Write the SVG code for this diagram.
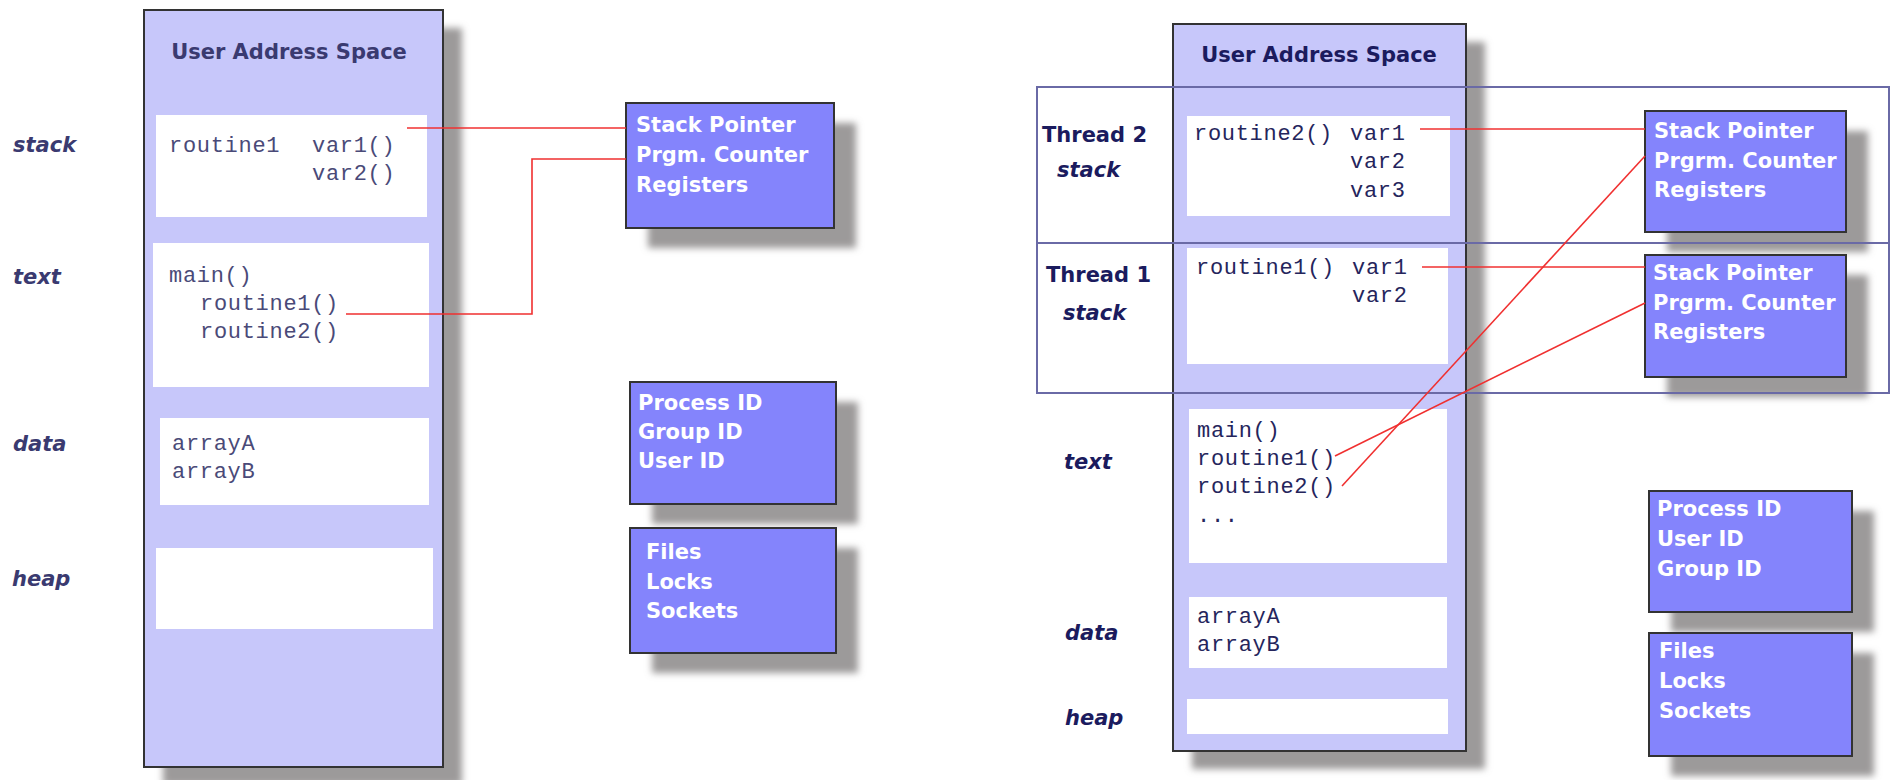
<svg xmlns="http://www.w3.org/2000/svg" width="1896" height="780" viewBox="0 0 1896 780">
<defs>
<filter id="blur" x="-20%" y="-20%" width="140%" height="140%"><feGaussianBlur stdDeviation="3.5"/></filter>
<style>
.sh{fill:#9c9a9a;filter:url(#blur)}
.space{fill:#c7c7fa;stroke:#333;stroke-width:2}
.slot{fill:#fff}
.blue{fill:#8484fc;stroke:#333;stroke-width:2}
.title{font-family:"DejaVu Sans",Verdana,sans-serif;font-weight:bold;font-size:21px}
.lab{font-family:"DejaVu Sans",Verdana,sans-serif;font-weight:bold;font-style:italic;font-size:21px}
.thr{font-family:"DejaVu Sans",Verdana,sans-serif;font-weight:bold;font-size:21px;fill:#1b1b5e}
.mono{font-family:"Liberation Mono","Courier New",monospace;font-size:22px;letter-spacing:0.7px}
.wt{font-family:"DejaVu Sans",Verdana,sans-serif;font-weight:bold;font-size:21px;fill:#fff}
.L{fill:#3a3a70}
.Lm{fill:#4a4a78}
.R{fill:#1b1b5e}
.Rm{fill:#25255c}
.frame{fill:none;stroke:#6a6aa6;stroke-width:2}
.red{fill:none;stroke:#f03030;stroke-width:1.6}
</style>
</defs>
<rect width="1896" height="780" fill="#fff"/>

<!-- LEFT: single-threaded process -->
<g id="left-address-space">
<rect class="sh" x="163" y="28" width="299" height="757"/>
<rect class="space" x="144" y="10" width="299" height="757"/>
<text class="title L" x="289" y="59" text-anchor="middle">User Address Space</text>
</g>
<g id="left-stack">
<text class="lab L" x="13" y="152">stack</text>
<rect class="slot" x="156" y="115" width="271" height="102"/>
<text class="mono Lm" x="169" y="152">routine1</text>
<text class="mono Lm" x="312" y="152">var1()</text>
<text class="mono Lm" x="312" y="180">var2()</text>
</g>
<g id="left-text">
<text class="lab L" x="13" y="284">text</text>
<rect class="slot" x="153" y="243" width="276" height="144"/>
<text class="mono Lm" x="169" y="282">main()</text>
<text class="mono Lm" x="200" y="310">routine1()</text>
<text class="mono Lm" x="200" y="338">routine2()</text>
</g>
<g id="left-data">
<text class="lab L" x="13" y="451">data</text>
<rect class="slot" x="160" y="418" width="269" height="87"/>
<text class="mono Lm" x="172" y="450">arrayA</text>
<text class="mono Lm" x="172" y="478">arrayB</text>
</g>
<g id="left-heap">
<text class="lab L" x="12" y="586">heap</text>
<rect class="slot" x="156" y="548" width="277" height="81"/>
</g>
<g id="left-registers">
<rect class="sh" x="648" y="123" width="208" height="125"/>
<rect class="blue" x="626" y="103" width="208" height="125"/>
<text class="wt" x="636" y="132">Stack Pointer</text>
<text class="wt" x="636" y="162">Prgm. Counter</text>
<text class="wt" x="636" y="192">Registers</text>
</g>
<g id="left-ids">
<rect class="sh" x="652" y="402" width="206" height="122"/>
<rect class="blue" x="630" y="382" width="206" height="122"/>
<text class="wt" x="638" y="410">Process ID</text>
<text class="wt" x="638" y="439">Group ID</text>
<text class="wt" x="638" y="468">User ID</text>
</g>
<g id="left-resources">
<rect class="sh" x="652" y="548" width="206" height="125"/>
<rect class="blue" x="630" y="528" width="206" height="125"/>
<text class="wt" x="646" y="559">Files</text>
<text class="wt" x="646" y="589">Locks</text>
<text class="wt" x="646" y="618">Sockets</text>
</g>

<!-- RIGHT: multi-threaded process -->
<g id="right-address-space">
<rect class="sh" x="1192" y="42" width="293" height="727"/>
<rect class="space" x="1173" y="24" width="293" height="727"/>
<text class="title R" x="1319" y="62" text-anchor="middle">User Address Space</text>
</g>
<g id="thread2-stack">
<text class="thr" x="1042" y="142">Thread 2</text>
<text class="lab R" x="1057" y="177">stack</text>
<rect class="slot" x="1187" y="116" width="263" height="100"/>
<text class="mono Rm" x="1194" y="140">routine2()</text>
<text class="mono Rm" x="1350" y="140">var1</text>
<text class="mono Rm" x="1350" y="168">var2</text>
<text class="mono Rm" x="1350" y="197">var3</text>
</g>
<g id="thread1-stack">
<text class="thr" x="1046" y="282">Thread 1</text>
<text class="lab R" x="1063" y="320">stack</text>
<rect class="slot" x="1187" y="248" width="261" height="116"/>
<text class="mono Rm" x="1196" y="274">routine1()</text>
<text class="mono Rm" x="1352" y="274">var1</text>
<text class="mono Rm" x="1352" y="302">var2</text>
</g>
<g id="right-text">
<text class="lab R" x="1064" y="469">text</text>
<rect class="slot" x="1189" y="409" width="258" height="154"/>
<text class="mono Rm" x="1197" y="437">main()</text>
<text class="mono Rm" x="1197" y="465">routine1()</text>
<text class="mono Rm" x="1197" y="493">routine2()</text>
<text class="mono Rm" x="1197" y="522">...</text>
</g>
<g id="right-data">
<text class="lab R" x="1065" y="640">data</text>
<rect class="slot" x="1189" y="597" width="258" height="71"/>
<text class="mono Rm" x="1197" y="623">arrayA</text>
<text class="mono Rm" x="1197" y="651">arrayB</text>
</g>
<g id="right-heap">
<text class="lab R" x="1065" y="725">heap</text>
<rect class="slot" x="1187" y="699" width="261" height="35"/>
</g>
<g id="thread2-registers">
<rect class="sh" x="1667" y="131" width="201" height="121"/>
<rect class="blue" x="1645" y="111" width="201" height="121"/>
<text class="wt" x="1654" y="138">Stack Pointer</text>
<text class="wt" x="1654" y="168">Prgrm. Counter</text>
<text class="wt" x="1654" y="197">Registers</text>
</g>
<g id="thread1-registers">
<rect class="sh" x="1667" y="275" width="201" height="122"/>
<rect class="blue" x="1645" y="255" width="201" height="122"/>
<text class="wt" x="1653" y="280">Stack Pointer</text>
<text class="wt" x="1653" y="310">Prgrm. Counter</text>
<text class="wt" x="1653" y="339">Registers</text>
</g>
<g id="right-ids">
<rect class="sh" x="1671" y="511" width="203" height="121"/>
<rect class="blue" x="1649" y="491" width="203" height="121"/>
<text class="wt" x="1657" y="516">Process ID</text>
<text class="wt" x="1657" y="546">User ID</text>
<text class="wt" x="1657" y="576">Group ID</text>
</g>
<g id="right-resources">
<rect class="sh" x="1671" y="653" width="203" height="123"/>
<rect class="blue" x="1649" y="633" width="203" height="123"/>
<text class="wt" x="1659" y="658">Files</text>
<text class="wt" x="1659" y="688">Locks</text>
<text class="wt" x="1659" y="718">Sockets</text>
</g>

<g id="thread-frame">
<rect class="frame" x="1037" y="87" width="852" height="306"/>
<line class="frame" x1="1037" y1="243" x2="1889" y2="243"/>
</g>

<g id="connectors">
<path class="red" d="M407,128 H626"/>
<path class="red" d="M346,314 H532 V159 H626"/>
<path class="red" d="M1420,129 H1645"/>
<path class="red" d="M1422,267 H1645"/>
<path class="red" d="M1335,456 L1645,303"/>
<path class="red" d="M1342,486 L1645,156"/>
</g>
</svg>
